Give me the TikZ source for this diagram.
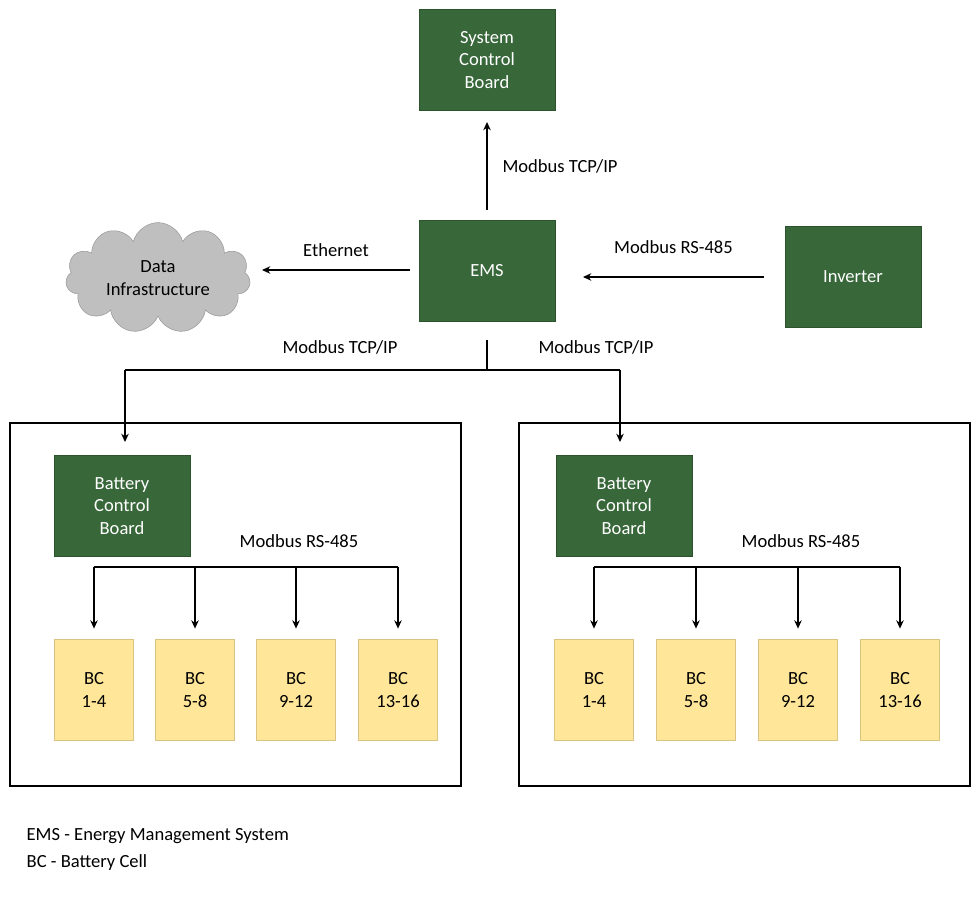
\documentclass[tikz,border=0pt]{standalone}
\usepackage{fontspec}
\setmainfont{Carlito}
\usetikzlibrary{shapes.symbols,arrows.meta}
\definecolor{boardgreen}{HTML}{38673A}
\definecolor{cellyellow}{HTML}{FFE699}
\definecolor{cloudgray}{HTML}{BFBFBF}
\tikzset{
  board/.style={draw=boardgreen!80!black,fill=boardgreen,text=white,minimum width=3.6cm,minimum height=2.68cm,align=center,inner sep=0pt},
  cell/.style={draw=cellyellow!85!black,fill=cellyellow,minimum width=2.09cm,minimum height=2.68cm,align=center,inner sep=0pt},
  frame/.style={draw,thick},
  link/.style={-{Stealth[length=2.2mm,width=2mm]},thick},
  lbl/.style={font=\fontsize{14}{17}\selectfont},
}
\begin{document}
\begin{tikzpicture}[x=0.0265cm,y=-0.0265cm,font=\fontsize{14}{17}\selectfont]
  \useasboundingbox (0,0) rectangle (980,898);
  % top row
  \node[board] (scb) at (487,60) {System\\Control\\Board};
  \node[board] (ems) at (487,271) {EMS};
  \node[board] (inv) at (853,277) {Inverter};
  \node[cloud,cloud puffs=11,aspect=2,draw=cloudgray!80!black,fill=cloudgray,minimum width=4.9cm,minimum height=2.8cm,align=center] (data) at (158,278) {Data\\Infrastructure};
  \coordinate (scbb) at (487,122); \coordinate (emst) at (487,210);
  \draw[link,{Stealth[length=2.2mm,width=2mm]}-] (scbb) -- (emst) node[midway,right=8pt,lbl] {Modbus TCP/IP};
  \coordinate (ethA) at (410,270); \coordinate (ethB) at (262,270);
  \draw[link] (ethA) -- (ethB) node[midway,above=6pt,lbl] {Ethernet};
  \coordinate (rsA) at (583,277); \coordinate (rsB) at (764,277);
  \draw[link,{Stealth[length=2.2mm,width=2mm]}-] (rsA) -- (rsB) node[midway,above=14pt,lbl] {Modbus RS-485};
  % battery racks
  \draw[frame] (10,423) rectangle (461,786);
  \draw[frame] (519,423) rectangle (970,786);
  \node[board] (bcbL) at (122,506) {Battery\\Control\\Board};
  \node[board] (bcbR) at (624,506) {Battery\\Control\\Board};
  \coordinate (emsb) at (487,340); \coordinate (split) at (487,370);
  \coordinate (tapL) at (125,370); \coordinate (tapR) at (620,370);
  \coordinate (inL) at (125,442); \coordinate (inR) at (620,442);
  \draw[thick] (emsb) -- (split) (tapL) -- (tapR);
  \draw[link] (tapL) -- (inL);
  \draw[link] (tapR) -- (inR);
  \node[lbl] at (340,347) {Modbus TCP/IP};
  \node[lbl] at (596,347) {Modbus TCP/IP};
  \foreach \side/\xa/\xb/\xc/\xd/\lx in {L/94/195/296/398/299,R/594/696/798/900/801}{
    \node[lbl] at (\lx,541) {Modbus RS-485};
    \coordinate (bus\side a) at (\xa,567); \coordinate (bus\side d) at (\xd,567);
    \draw[thick] (bus\side a) -- (bus\side d);
    \foreach \x/\name/\txt in {\xa/1/1-4,\xb/2/5-8,\xc/3/9-12,\xd/4/13-16}{
      \node[cell] (bc\side\name) at (\x,690) {BC\\\txt};
      \coordinate (drop\side\name) at (\x,567);
      \draw[link] (drop\side\name) -- ([yshift=8pt]bc\side\name.north);
    }
  }
  % legend
  \node[anchor=west] (leg1) at (22,836) {EMS - Energy Management System};
  \node[anchor=west] (leg2) at (22,863) {BC - Battery Cell};
\end{tikzpicture}
\end{document}
